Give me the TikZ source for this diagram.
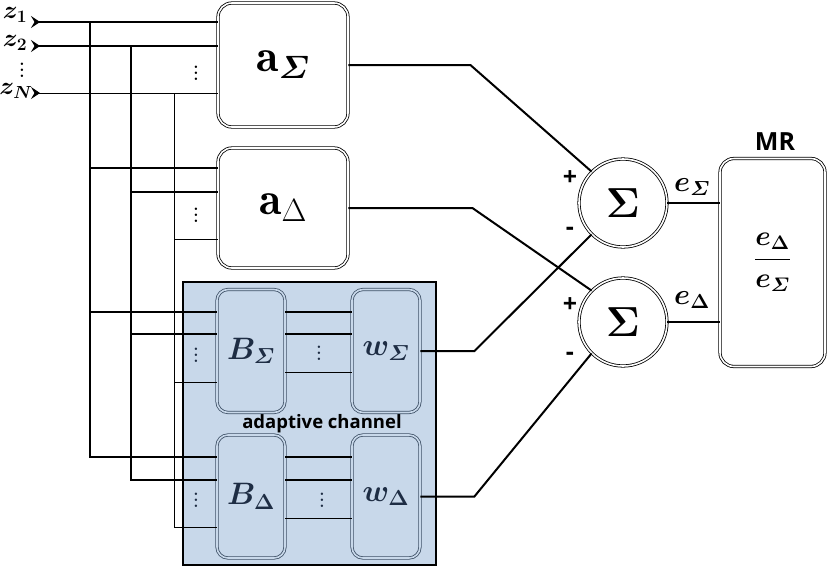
\RequirePackage{fix-cm}
\documentclass[tikz,border=0pt]{standalone}
\usepackage{amsmath}
\usepackage{bm}
\usepackage{fontspec}
\setsansfont{Open Sans}
\usetikzlibrary{arrows.meta}
\definecolor{chanblue}{RGB}{200,216,234}
\definecolor{boxedge}{RGB}{62,80,102}
\definecolor{boxtext}{RGB}{30,45,68}
\newcommand{\vdts}{\vbox{\baselineskip6pt\lineskiplimit0pt\hbox{\bfseries .}\hbox{\bfseries .}\hbox{\bfseries .}}}

\begin{document}
\begin{tikzpicture}[x=1pt, y=-1pt]
\tikzstyle{blk}=[draw, double, double distance=1.6pt, line width=0.8pt, rounded corners=14pt, fill=white, inner sep=0pt]
\tikzstyle{ablk}=[blk, minimum width=130pt, font=\fontsize{46}{50}\selectfont]
\tikzstyle{cblk}=[blk, draw=boxedge, double=chanblue, fill=chanblue, text=boxtext, rounded corners=11pt, minimum width=68pt, minimum height=123pt, font=\fontsize{31}{34}\selectfont]
\tikzstyle{sumnode}=[draw, double, double distance=1.6pt, line width=0.8pt, circle, minimum size=88pt, inner sep=0pt, font=\fontsize{42}{46}\selectfont]
\tikzstyle{wa}=[line width=2.4pt]
\tikzstyle{wb}=[line width=1.5pt]
\tikzstyle{wc}=[line width=0.8pt]
\tikzstyle{outw}=[line width=2pt]
\tikzstyle{sgn}=[font=\sffamily\bfseries\fontsize{25}{25}\selectfont, inner sep=0pt]
\tikzstyle{lbl}=[font=\fontsize{29}{32}\selectfont, inner sep=0pt]
\tikzstyle{zlbl}=[font=\fontsize{25}{27}\selectfont, inner sep=0pt]
\tikzstyle{vdot}=[font=\fontsize{17}{17}\selectfont, inner sep=0pt]
\tikzstyle{intip}=[{Stealth[reversed, length=9pt, width=12pt, inset=3.5pt]}-]

\useasboundingbox (0,0) rectangle (827,568);

\node[draw, line width=2pt, fill=chanblue, minimum width=253pt, minimum height=283pt, inner sep=0pt] (chan) at (309.5,423.5) {};
\node[font=\sffamily\bfseries\fontsize{18.5}{18.5}\selectfont, inner sep=0pt] (chanlbl) at (322,424) {adaptive channel};

\node[ablk, minimum height=124pt] (asum) at (283,65) {$\mathbf{a}_{\bm{\varSigma}}$};
\node[ablk, minimum height=120pt] (adel) at (283,208) {$\mathbf{a}_{\Delta}$};
\node[cblk] (bsum) at (251,351) {$\bm{B_{\varSigma}}$};
\node[cblk] (wsum) at (386,351) {$\bm{w_{\varSigma}}$};
\node[cblk] (bdel) at (251,496.5) {$\bm{B_{\Delta}}$};
\node[cblk] (wdel) at (386,496.5) {$\bm{w_{\Delta}}$};

\node[sumnode] (sum1) at (623,203) {$\bm{\Sigma}$};
\node[sumnode] (sum2) at (623,322) {$\bm{\Sigma}$};
\node[blk, minimum width=105pt, minimum height=208pt, font=\fontsize{28}{32}\selectfont] (mr) at (772.5,262.5) {$\displaystyle\bm{\frac{e_{\Delta}}{e_{\varSigma}}}$};
\node[font=\sffamily\bfseries\fontsize{25}{25}\selectfont, inner sep=0pt] (mrlbl) at (775,142) {MR};

\node[zlbl] (z1) at (15,15) {$\bm{z_1}$};
\node[zlbl] (z2) at (15,43) {$\bm{z_2}$};
\node[vdot] (zd) at (22,70) {\vdts};
\node[zlbl] (zN) at (16,91) {$\bm{z_N}$};
\coordinate (in1) at (31,22);
\coordinate (in2) at (31,46);
\coordinate (inN) at (31,93);
\coordinate (bus1) at (90,22);
\coordinate (bus2) at (131,46);
\coordinate (busN) at (174,93);

\draw[wa, intip] (in1) -- (in1 -| asum.west);
\draw[wb, intip] (in2) -- (in2 -| asum.west);
\draw[wc, intip] (inN) -- (inN -| asum.west);
\draw[wa] (bus1) |- (bdel.west |- 0,457);
\draw[wb] (bus2) |- (bdel.west |- 0,480);
\draw[wc] (busN) |- (bdel.west |- 0,527);
\foreach \n/\ya/\yb/\yc in {adel/168/192/239, bsum/312/334/382} {
  \draw[wa] (bus1 |- 0,\ya) -- (\n.west |- 0,\ya);
  \draw[wb] (bus2 |- 0,\yb) -- (\n.west |- 0,\yb);
  \draw[wc] (busN |- 0,\yc) -- (\n.west |- 0,\yc);
}
\foreach \p/\q/\ya/\yb/\yc in {bsum/wsum/312/334/372, bdel/wdel/457/480/518} {
  \draw[wa] (\p.east |- 0,\ya) -- (\q.west |- 0,\ya);
  \draw[wb] (\p.east |- 0,\yb) -- (\q.west |- 0,\yb);
  \draw[wc] (\p.east |- 0,\yc) -- (\q.west |- 0,\yc);
}
\node[vdot] (da) at (196,73) {\vdts};
\node[vdot] (db) at (196,215) {\vdts};
\node[vdot, text=boxtext] (dc) at (196,355) {\vdts};
\node[vdot, text=boxtext] (dd) at (319,353) {\vdts};
\node[vdot, text=boxtext] (de) at (196,500) {\vdts};
\node[vdot, text=boxtext] (df) at (322,500) {\vdts};

\draw[outw] (asum.east) -- ++(122,0) -- (sum1.135);
\draw[outw] (adel.east) -- ++(124,0) -- (sum2.135);
\draw[outw] (wsum.east) -- ++(54,0) -- (sum1.225);
\draw[outw] (wdel.east) -- ++(54,0) -- (sum2.225);
\draw[outw] (sum1.east) -- (sum1.east -| mr.west);
\draw[outw] (sum2.east) -- (sum2.east -| mr.west);

\node[sgn] (p1) at (570,178) {+};
\node[sgn] (m1) at (570,231) {-};
\node[sgn] (p2) at (570,305) {+};
\node[sgn] (m2) at (570,356) {-};
\node[lbl] (esum) at (692,187) {$\bm{e_{\varSigma}}$};
\node[lbl] (edel) at (692,300) {$\bm{e_{\Delta}}$};
\end{tikzpicture}
\end{document}
